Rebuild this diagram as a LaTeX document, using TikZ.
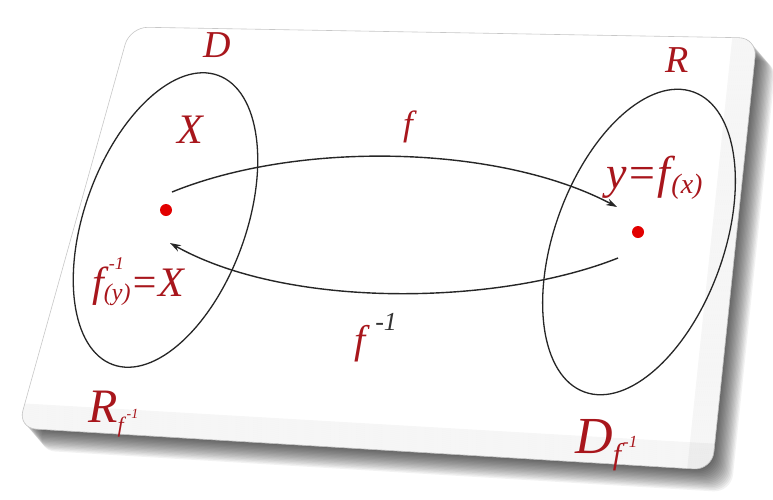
\documentclass[tikz,border=0pt]{standalone}
\usepackage{fontspec}
\setmainfont{Liberation Serif}
\usetikzlibrary{arrows.meta}
\definecolor{labred}{RGB}{168,22,28}
\definecolor{dotred}{RGB}{226,0,0}
\newcommand{\fsz}[1]{\fontsize{#1}{#1}\selectfont}

\begin{document}
\begin{tikzpicture}[x=1pt,y=-1pt,
  lab/.style={text=labred,inner sep=0pt,font=\itshape\fsz{38}},
  dot/.style={circle,fill=dotred,inner sep=0pt,minimum size=12pt},
  setline/.style={black!85,line width=1.3pt},
  conn/.style={black!85,line width=1.4pt,-{Stealth[length=11pt,width=7pt]}}]
\useasboundingbox (0,0) rectangle (773,499);
\fill[white] (0,0) rectangle (773,499);
% soft shadow of the tilted plate, built from shifted copies
\foreach \k in {1,...,16}
  \fill[black,opacity=0.05,rounded corners=18pt]
    ({130+1.2*\k},{27+1.4*\k}) -- ({757+1.2*\k},{38+1.4*\k})
    -- ({712+1.2*\k},{470+1.4*\k}) -- ({18+1.2*\k},{428+1.4*\k}) -- cycle;
% plate face
\fill[white,draw=black!22,line width=0.6pt,rounded corners=18pt]
  (130,27) -- (757,38) -- (712,470) -- (18,428) -- cycle;
% bevel along the lower and right edges of the face
\begin{scope}
  \clip[rounded corners=18pt] (130,27) -- (757,38) -- (712,470) -- (18,428) -- cycle;
  \foreach \k in {0,...,12}
    {\draw[black,opacity=0.035,line width=2pt] ({0},{427-2*\k}) -- ({773},{472-2*\k});
     \draw[black,opacity=0.035,line width=2pt] ({758-2*\k},{30}) -- ({711-2*\k},{480});}
\end{scope}
% the two sets
\draw[setline,rotate around={-20:(165.5,220)}] (165.5,220) ellipse [x radius=80.6,y radius=153.9];
\draw[setline,rotate around={-20:(639,242)}] (639,242) ellipse [x radius=84.5,y radius=159.6];
% the two elements
\node[dot] (ptx) at (166,210) {};
\node[dot] (pty) at (638,232) {};
\coordinate (fstart) at ([shift={(6,-18)}]ptx.center);
\coordinate (fend) at ([shift={(-21,-25)}]pty.center);
\coordinate (gstart) at ([shift={(-20,26)}]pty.center);
\coordinate (gend) at ([shift={(4,33)}]ptx.center);
% f and its inverse
\draw[conn] (fstart) .. controls (300,140) and (500,145) .. (fend);
\draw[conn] (gstart) .. controls (500,305) and (290,310) .. (gend);
% labels
\node[lab] (setD) at (217,45) {D};
\node[lab,font=\itshape\fsz{42}] (elemX) at (190,130) {X};
\node[lab] (setR) at (677,60) {R};
\node[lab,font=\itshape\fsz{35}] (fLab) at (408,127) {f};
\node[lab,font=\itshape\fsz{40},anchor=base west] (fInvLab) at (354,353)
  {f\hspace{10pt}\raisebox{23pt}{\fsz{26}\color{black!80}-1}};
\node[lab,font=\itshape\fsz{46},anchor=base west] (imgY) at (606,188)
  {y=f\hspace{1pt}\raisebox{-5pt}{\fsz{28}(x)}};
\node[lab,font=\itshape\fsz{42},anchor=base west] (preX) at (92,296)
  {f\rlap{\hspace{5pt}\raisebox{27pt}{\fsz{18}-1}}\raisebox{-4pt}{\fsz{24}(y)}=X};
\node[lab,font=\itshape\fsz{48},anchor=base west] (RfInv) at (88,422)
  {R\raisebox{-10pt}{\fsz{22}f}\hspace{3pt}\raisebox{4pt}{\fsz{14}-1}};
\node[lab,font=\itshape\fsz{52},anchor=base west] (DfInv) at (575,453)
  {D\raisebox{-11pt}{\fsz{30}f}\hspace{2pt}\raisebox{6pt}{\fsz{17}-1}};
\end{tikzpicture}
\end{document}
